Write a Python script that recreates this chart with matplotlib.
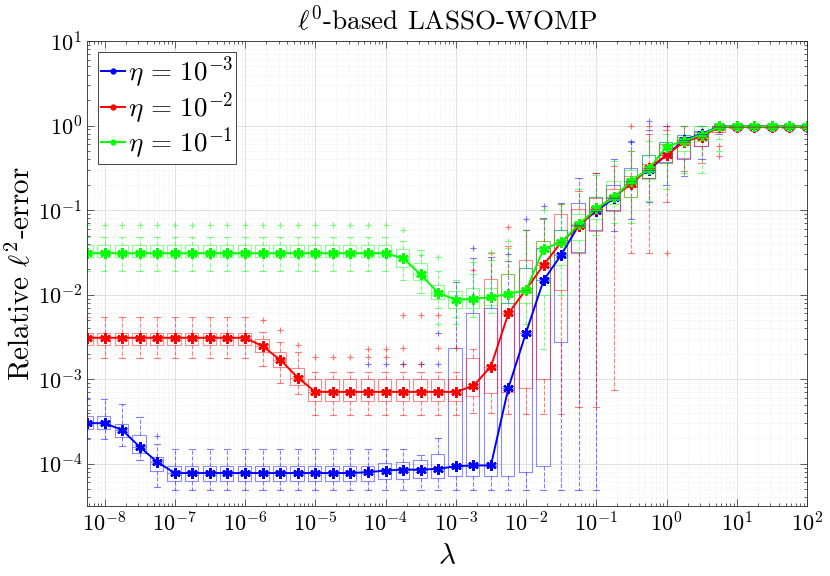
import numpy as np
import matplotlib
matplotlib.use('Agg')
import matplotlib.pyplot as plt
from matplotlib.ticker import LogLocator, FixedLocator, NullFormatter

plt.rcParams['mathtext.fontset'] = 'cm'
plt.rcParams['font.family'] = ['cmr10', 'DejaVu Serif']
plt.rcParams['axes.formatter.use_mathtext'] = True
plt.rcParams['axes.unicode_minus'] = False

# lambda grid (log10 exponents)
lam_exp = [-8.25, -8.0, -7.75, -7.5, -7.25, -7.0, -6.75, -6.5, -6.25, -6.0,
           -5.75, -5.5, -5.25, -5.0, -4.75, -4.5, -4.25, -4.0, -3.75, -3.5,
           -3.25, -3.0, -2.75, -2.5, -2.25, -2.0, -1.75, -1.5, -1.25, -1.0,
           -0.75, -0.5, -0.25, 0.0, 0.25, 0.5, 0.75, 1.0, 1.25, 1.5,
           1.75, 2.0]
x_ticks = [1e-8, 1e-7, 1e-6, 1e-5, 1e-4, 1e-3, 1e-2, 1e-1, 1e0, 1e1, 1e2]
y_ticks = [1e-4, 1e-3, 1e-2, 1e-1, 1e0, 1e1]

# eta = 1e-3 (blue), log10 of relative error
blue_med = [-3.52, -3.52, -3.60, -3.80, -3.98, -4.11, -4.11, -4.11, -4.11, -4.11,
            -4.11, -4.11, -4.11, -4.11, -4.11, -4.11, -4.10, -4.08, -4.07, -4.07,
            -4.06, -4.03, -4.02, -4.02, -3.10, -2.45, -1.83, -1.53, -1.18, -1.01,
            -0.86, -0.66, -0.52, -0.35, -0.17, -0.10, -0.01, -0.01, -0.01, -0.01,
            -0.01, -0.01]
blue_q3 = [-3.44, -3.44, -3.53, -3.66, -3.92, -4.03, -4.03, -4.03, -4.03, -4.03,
           -4.03, -4.03, -4.03, -4.03, -4.03, -4.03, -4.03, -3.99, -3.98, -3.95,
           -3.89, -2.63, -2.22, -2.16, -2.10, -1.69, -1.45, -1.23, -0.92, -0.85,
           -0.70, -0.50, -0.35, -0.20, -0.11, -0.07, 0.00, 0.00, 0.00, 0.00,
           0.00, 0.00]
blue_q1 = [-3.59, -3.59, -3.68, -3.87, -4.08, -4.21, -4.21, -4.21, -4.21, -4.21,
           -4.21, -4.21, -4.21, -4.21, -4.21, -4.21, -4.21, -4.18, -4.18, -4.17,
           -4.17, -4.15, -4.15, -4.15, -4.14, -4.10, -4.03, -2.56, -1.50, -1.24,
           -1.00, -0.73, -0.62, -0.43, -0.40, -0.24, -0.03, -0.02, -0.02, -0.02,
           -0.02, -0.02]
blue_hi = [-3.36, -3.23, -3.29, -3.45, -3.77, -3.83, -3.83, -3.83, -3.83, -3.83,
           -3.83, -3.83, -3.83, -3.83, -3.83, -3.83, -3.83, -3.83, -3.83, -3.90,
           -3.70, -1.85, -1.57, -1.55, -1.60, -1.23, -1.09, -0.92, -0.62, -0.56,
           -0.40, -0.18, -0.05, 0.00, 0.00, 0.00, 0.00, 0.00, 0.00, 0.00,
           0.00, 0.00]
blue_lo = [-3.71, -3.71, -3.79, -3.96, -4.27, -4.31, -4.31, -4.31, -4.31, -4.31,
           -4.31, -4.31, -4.31, -4.31, -4.31, -4.31, -4.31, -4.31, -4.31, -4.31,
           -4.31, -4.31, -4.31, -4.31, -4.31, -4.31, -4.31, -4.31, -4.31, -4.31,
           -1.25, -1.10, -0.90, -0.70, -0.60, -0.40, -0.10, -0.07, -0.07, -0.07,
           -0.07, -0.07]
blue_out = [(0, -3.23), (4, -3.67), (16, -2.82), (17, -2.82), (18, -2.82),
            (19, -2.82), (20, -2.82), (20, -2.45), (22, -1.45), (24, -1.52),
            (25, -1.10), (26, -0.95), (31, -0.19), (32, 0.05)]

# eta = 1e-2 (red)
red_med = [-2.51, -2.51, -2.51, -2.51, -2.51, -2.51, -2.51, -2.51, -2.51, -2.51,
           -2.61, -2.77, -2.98, -3.15, -3.15, -3.15, -3.15, -3.15, -3.15, -3.15,
           -3.15, -3.15, -3.08, -2.85, -2.22, -1.94, -1.65, -1.38, -1.19, -0.99,
           -0.84, -0.69, -0.50, -0.35, -0.19, -0.13, -0.015, -0.015, -0.015, -0.015,
           -0.015, -0.015]
red_q3 = [-2.45, -2.45, -2.45, -2.45, -2.45, -2.45, -2.45, -2.45, -2.45, -2.45,
          -2.52, -2.68, -2.87, -3.00, -3.00, -3.00, -3.00, -3.00, -3.00, -3.00,
          -3.00, -3.00, -2.75, -1.81, -1.75, -1.59, -1.36, -1.05, -0.99, -0.86,
          -0.75, -0.60, -0.45, -0.22, -0.14, -0.08, 0.00, 0.00, 0.00, 0.00,
          0.00, 0.00]
red_q1 = [-2.59, -2.59, -2.59, -2.59, -2.59, -2.59, -2.59, -2.59, -2.59, -2.59,
          -2.68, -2.86, -3.07, -3.26, -3.26, -3.26, -3.26, -3.26, -3.26, -3.26,
          -3.26, -3.26, -3.20, -3.16, -3.15, -3.10, -3.00, -1.95, -1.51, -1.25,
          -1.01, -0.85, -0.62, -0.44, -0.38, -0.24, -0.08, -0.025, -0.025, -0.025,
          -0.025, -0.025]
red_hi = [-2.26, -2.26, -2.26, -2.26, -2.26, -2.26, -2.26, -2.26, -2.26, -2.26,
          -2.44, -2.56, -2.68, -2.92, -2.92, -2.92, -2.92, -2.92, -2.92, -2.92,
          -2.92, -2.92, -2.64, -1.51, -1.43, -1.23, -1.11, -0.93, -0.77, -0.56,
          -0.48, -0.30, -0.10, -0.05, -0.01, 0.00, 0.00, 0.00, 0.00, 0.00,
          0.00, 0.00]
red_lo = [-2.75, -2.75, -2.75, -2.75, -2.75, -2.75, -2.75, -2.75, -2.75, -2.75,
          -2.84, -3.04, -3.17, -3.42, -3.42, -3.42, -3.42, -3.42, -3.42, -3.42,
          -3.42, -3.42, -3.40, -3.40, -3.41, -3.41, -3.41, -3.41, -3.33, -3.33,
          -3.13, -1.51, -1.51, -0.90, -0.54, -0.44, -0.08, -0.03, -0.03, -0.03,
          -0.03, -0.03]
red_out = [(10, -2.30), (11, -2.42), (12, -2.59), (13, -2.74), (14, -2.74),
           (15, -2.74), (16, -2.74), (16, -2.64), (17, -2.74), (17, -2.64),
           (18, -2.82), (18, -2.63), (18, -2.24), (19, -2.82), (19, -2.24),
           (20, -2.63), (20, -2.24), (21, -2.63), (22, -1.71), (24, -1.20),
           (31, 0.00), (32, 0.00), (33, 0.00), (33, -1.51), (36, -0.24), (36, -0.36)]

# eta = 1e-1 (green)
green_med = [-1.51, -1.51, -1.51, -1.51, -1.51, -1.51, -1.51, -1.51, -1.51, -1.51,
             -1.51, -1.51, -1.51, -1.51, -1.51, -1.51, -1.51, -1.51, -1.57, -1.76,
             -1.98, -2.06, -2.05, -2.03, -1.99, -1.95, -1.46, -1.38, -1.17, -0.98,
             -0.85, -0.655, -0.51, -0.25, -0.18, -0.11, -0.01, -0.01, -0.01, -0.01,
             -0.01, -0.01]
green_q3 = [-1.41, -1.41, -1.41, -1.41, -1.41, -1.41, -1.41, -1.41, -1.41, -1.41,
            -1.41, -1.41, -1.41, -1.41, -1.41, -1.41, -1.41, -1.41, -1.46, -1.63,
            -1.88, -1.96, -1.92, -1.92, -1.75, -1.69, -1.36, -1.23, -1.05, -0.85,
            -0.65, -0.52, -0.35, -0.20, -0.11, -0.01, 0.00, 0.00, 0.00, 0.00,
            0.00, 0.00]
green_q1 = [-1.55, -1.55, -1.55, -1.55, -1.55, -1.55, -1.55, -1.55, -1.55, -1.55,
            -1.55, -1.55, -1.55, -1.55, -1.55, -1.55, -1.55, -1.55, -1.67, -1.83,
            -2.05, -2.16, -2.16, -2.12, -2.10, -2.10, -2.00, -1.65, -1.35, -1.11,
            -0.93, -0.85, -0.63, -0.44, -0.30, -0.18, -0.05, -0.015, -0.015, -0.015,
            -0.015, -0.015]
green_hi = [-1.32, -1.32, -1.32, -1.32, -1.32, -1.32, -1.32, -1.32, -1.32, -1.32,
            -1.32, -1.32, -1.32, -1.32, -1.32, -1.32, -1.32, -1.32, -1.37, -1.47,
            -1.72, -1.83, -1.75, -1.59, -1.45, -1.23, -1.11, -0.93, -0.75, -0.58,
            -0.42, -0.30, -0.18, -0.10, 0.00, 0.00, 0.00, 0.00, 0.00, 0.00,
            0.00, 0.00]
green_lo = [-1.72, -1.72, -1.72, -1.72, -1.72, -1.72, -1.72, -1.72, -1.72, -1.72,
            -1.72, -1.72, -1.72, -1.72, -1.72, -1.72, -1.72, -1.72, -1.83, -1.98,
            -2.16, -2.26, -2.26, -2.22, -2.20, -2.35, -2.64, -2.00, -1.49, -1.30,
            -1.15, -1.15, -0.89, -0.75, -0.56, -0.56, -0.16, -0.03, -0.03, -0.03,
            -0.03, -0.03]
green_out = [(0, -1.18), (1, -1.18), (2, -1.18), (3, -1.18), (4, -1.18), (5, -1.18),
             (6, -1.18), (7, -1.18), (8, -1.18), (9, -1.18), (10, -1.18), (11, -1.18),
             (12, -1.18), (13, -1.18), (14, -1.18), (15, -1.18), (16, -1.18), (17, -1.18),
             (18, -1.24), (19, -1.53), (20, -1.56), (20, -2.35), (21, -2.35),
             (22, -1.61), (23, -1.49), (24, -1.37), (26, -1.00), (36, -0.30)]

labels = [r'$\eta\,=\,10^{-3}$', r'$\eta\,=\,10^{-2}$', r'$\eta\,=\,10^{-1}$']
colors = ['#0000ff', '#ff0000', '#00ff00']

lam = 10.0 ** np.array(lam_exp)

fig = plt.figure(figsize=(8.3, 5.76), dpi=100)
ax = fig.add_axes([0.1048, 0.1215, 0.8675, 0.8073])
ax.set_xscale('log')
ax.set_yscale('log')

series = [
    (blue_med, blue_q1, blue_q3, blue_lo, blue_hi, blue_out),
    (red_med, red_q1, red_q3, red_lo, red_hi, red_out),
    (green_med, green_q1, green_q3, green_lo, green_hi, green_out),
]

# box plots
for (med, q1, q3, lo, hi, out), col in zip(series, colors):
    stats = []
    for k in range(len(lam)):
        stats.append(dict(med=10 ** med[k], q1=10 ** q1[k], q3=10 ** q3[k],
                          whislo=10 ** lo[k], whishi=10 ** hi[k],
                          fliers=[10 ** v for kk, v in out if kk == k]))
    ax.bxp(stats, positions=lam, widths=0.43 * lam, capwidths=0.2 * lam,
           manage_ticks=False,
           boxprops=dict(color=col, lw=0.8, alpha=0.45),
           whiskerprops=dict(color=col, lw=0.8, ls='--', alpha=0.5),
           capprops=dict(color=col, lw=0.8, alpha=0.5),
           medianprops=dict(color=col, lw=0.8, alpha=0.45),
           flierprops=dict(marker='+', markeredgecolor=col, ms=5, mew=0.8,
                           alpha=0.55, ls='none'))

# median curves
handles = []
for (med, *_), col, lab in zip(series, colors, labels):
    yv = 10.0 ** np.array(med)
    h, = ax.plot(lam, yv, color=col, lw=1.4, marker='.', ms=7, label=lab)
    ax.plot(lam, yv, color=col, lw=0, marker=(6, 2, 0), ms=7.5, mew=1.7)
    handles.append(h)

ax.set_xlim(10 ** -8.25, 1e2)
ax.set_ylim(10 ** -4.5, 1e1)

ax.xaxis.set_major_locator(FixedLocator(x_ticks))
ax.yaxis.set_major_locator(FixedLocator(y_ticks))
ax.xaxis.set_minor_locator(LogLocator(base=10, subs=np.arange(2, 10), numticks=20))
ax.yaxis.set_minor_locator(LogLocator(base=10, subs=np.arange(2, 10), numticks=20))
ax.xaxis.set_minor_formatter(NullFormatter())
ax.yaxis.set_minor_formatter(NullFormatter())

ax.grid(True, which='major', color='#dcdcdc', lw=0.6)
ax.grid(True, which='minor', color='#e6e6e6', lw=0.5, ls=':')
ax.set_axisbelow(True)

ax.tick_params(which='both', direction='in', top=True, right=True,
               color='#262626', labelsize=16, width=0.5)
ax.tick_params(which='major', length=5)
ax.tick_params(which='minor', length=2.5)
for s in ax.spines.values():
    s.set_color('#262626')
    s.set_linewidth(0.6)

ax.set_title(r'$\ell^0$-based LASSO-WOMP', fontsize=19.5, pad=8)
ax.set_xlabel(r'$\lambda$', fontsize=21, labelpad=6)
ax.set_ylabel(r'Relative $\ell^2$-error', fontsize=21, labelpad=2)

leg = ax.legend(handles=handles, loc='upper left', fontsize=19.5, fancybox=False,
                framealpha=1, edgecolor='#262626', handlelength=0.9,
                handletextpad=0.1, labelspacing=0.0, borderpad=0.1,
                borderaxespad=0.4)
leg.get_frame().set_linewidth(0.6)

fig.savefig('out.png', dpi=100)
